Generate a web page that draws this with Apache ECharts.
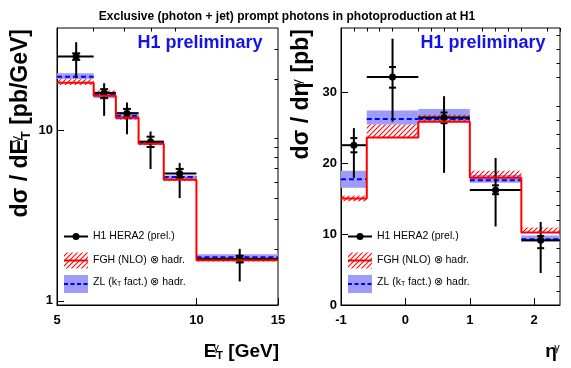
<!DOCTYPE html>
<html><head><meta charset="utf-8">
<script src="https://cdn.jsdelivr.net/npm/echarts@6/dist/echarts.min.js"></script>
<style>html,body{margin:0;padding:0;background:#fff}#c{width:571px;height:368px}</style>
</head><body><div id="c"></div>
<script>
// ---------- data: left panel (E_T^gamma) ----------
const etEdges   = [5, 6, 6.7, 7.5, 8.5, 10, 15];
const etX       = [5.5, 6.32, 7.08, 7.96, 9.2, 12.4];
const etData    = [27.2, 16.6, 12.65, 8.6, 5.6, 1.76];
const etTotLo   = [20.3, 12.2, 9.5, 5.94, 4.01, 1.30];
const etTotHi   = [33.0, 18.96, 14.6, 9.87, 6.44, 2.02];
const etStatLo  = [26.0, 15.5, 11.9, 8.0, 5.3, 1.68];
const etStatHi  = [28.4, 17.5, 13.4, 9.2, 5.95, 1.84];
const etFGH     = [19.1, 16.0, 11.9, 8.36, 5.14, 1.73];
const etFGHLo   = [18.5, 15.8, 11.6, 8.2, 5.05, 1.70];
const etFGHHi   = [20.0, 17.2, 12.4, 8.6, 5.35, 1.80];
const etZL      = [20.7, 16.4, 12.2, 8.5, 5.33, 1.80];
const etZLLo    = [20.1, 15.5, 11.6, 8.3, 5.2, 1.73];
const etZLHi    = [21.7, 16.9, 12.6, 8.7, 5.45, 1.88];
const etXLabels = [5, 10, 15];
const etXMinor  = [6, 7, 8, 9];
const etYLabels = [1, 10];
const etYMinor  = [2, 3, 4, 5, 6, 7, 8, 9, 20, 30];

// ---------- data: right panel (eta^gamma) ----------
const etaEdges  = [-1, -0.6, 0.2, 1.0, 1.8, 2.4];
const etaX      = [-0.8, -0.2, 0.6, 1.4, 2.1];
const etaData   = [22.5, 32.1, 26.4, 16.2, 9.1];
const etaTotLo  = [17.9, 25.8, 18.6, 11.05, 4.5];
const etaTotHi  = [24.9, 37.5, 29.4, 20.7, 11.7];
const etaStatLo = [21.5, 30.6, 25.6, 15.6, 8.0];
const etaStatHi = [23.5, 33.5, 27.1, 16.85, 9.7];
const etaFGH    = [15.0, 23.6, 25.8, 17.9, 10.2];
const etaFGHLo  = [14.6, 23.6, 25.8, 17.9, 10.2];
const etaFGHHi  = [15.4, 25.4, 26.8, 18.9, 10.9];
const etaZL     = [17.7, 26.2, 26.2, 17.55, 9.27];
const etaZLLo   = [16.5, 25.4, 25.9, 17.2, 8.9];
const etaZLHi   = [18.9, 27.4, 27.6, 18.3, 9.8];
const etaXLabels = [-1, 0, 1, 2];
const etaXMinor  = [-0.8, -0.6, -0.4, -0.2, 0.2, 0.4, 0.6, 0.8, 1.2, 1.4, 1.6, 1.8, 2.2, 2.4];
const etaYLabels = [0, 10, 20, 30];
const etaYMinor  = [2, 4, 6, 8, 12, 14, 16, 18, 22, 24, 26, 28, 32, 34, 36, 38];

// ---------- styles ----------
const FONT = "'Liberation Sans', Arial, Helvetica, sans-serif";
const RED = '#ff0000', BLUE = '#0000ff', BAND = '#9d9df7', H1BLUE = '#1414e6';

function hatchCanvas() {
  const c = document.createElement('canvas');
  c.width = 5; c.height = 5;
  const g = c.getContext('2d');
  g.strokeStyle = RED; g.lineWidth = 1.1;
  g.beginPath();
  g.moveTo(0, 5); g.lineTo(5, 0);
  g.moveTo(-1, 1); g.lineTo(1, -1);
  g.moveTo(4, 6); g.lineTo(6, 4);
  g.stroke();
  return c;
}
const HATCH = { image: hatchCanvas(), repeat: 'repeat' };

function bins(edges, lo, hi) {
  return lo.map((v, i) => [edges[i], edges[i + 1], v, hi[i]]);
}
function segs(edges, vals) {
  return vals.map((v, i) => [edges[i], edges[i + 1], v]);
}
function stepPts(edges, vals) {
  const p = [];
  vals.forEach((v, i) => { p.push([edges[i], v]); p.push([edges[i + 1], v]); });
  return p;
}
function pts(x, y, tl, th, sl, sh, edges) {
  return x.map((xv, i) => [xv, y[i], tl[i], th[i], sl[i], sh[i], edges[i], edges[i + 1]]);
}

function bandRender(fill) {
  return function (params, api) {
    const a = api.coord([api.value(0), api.value(3)]);
    const b = api.coord([api.value(1), api.value(2)]);
    return { type: 'rect', shape: { x: a[0], y: a[1], width: b[0] - a[0], height: b[1] - a[1] }, style: { fill: fill } };
  };
}
function dashRender(params, api) {
  const a = api.coord([api.value(0), api.value(2)]);
  const b = api.coord([api.value(1), api.value(2)]);
  return { type: 'line', shape: { x1: a[0], y1: a[1], x2: b[0], y2: b[1] }, style: { stroke: BLUE, lineWidth: 2, lineDash: [5, 3] } };
}
function pointRender(cap, r) {
  return function (params, api) {
    const x = api.value(0), y = api.value(1);
    const c = api.coord([x, y]);
    const t0 = api.coord([x, api.value(2)]), t1 = api.coord([x, api.value(3)]);
    const s0 = api.coord([x, api.value(4)]), s1 = api.coord([x, api.value(5)]);
    const e0 = api.coord([api.value(6), y]), e1 = api.coord([api.value(7), y]);
    const st = { stroke: '#000', lineWidth: 2 };
    return { type: 'group', children: [
      { type: 'line', shape: { x1: e0[0], y1: c[1], x2: e1[0], y2: c[1] }, style: st },
      { type: 'line', shape: { x1: c[0], y1: t0[1], x2: c[0], y2: t1[1] }, style: st },
      { type: 'line', shape: { x1: c[0] - cap, y1: s0[1], x2: c[0] + cap, y2: s0[1] }, style: st },
      { type: 'line', shape: { x1: c[0] - cap, y1: s1[1], x2: c[0] + cap, y2: s1[1] }, style: st },
      { type: 'circle', shape: { cx: c[0], cy: c[1], r: r }, style: { fill: '#000' } }
    ] };
  };
}

const labelStyle = { color: '#000', fontFamily: FONT, fontWeight: 'bold', fontSize: 13 };
function majorAxis(type, grid, min, max, labels, margin) {
  return {
    type: type, gridIndex: grid, min: min, max: max, logBase: 10,
    axisLine: { show: true, onZero: false, lineStyle: { color: '#000', width: 1 } },
    axisTick: { show: true, inside: true, length: 7, customValues: labels, lineStyle: { color: '#000', width: 1 } },
    axisLabel: Object.assign({ show: true, customValues: labels, margin: margin, showMinLabel: true, showMaxLabel: true }, labelStyle),
    splitLine: { show: false }, minorTick: { show: false }
  };
}
function minorAxis(type, grid, min, max, ticks) {
  return {
    type: type, gridIndex: grid, min: min, max: max, logBase: 10,
    axisLine: { show: false, onZero: false },
    axisTick: { show: true, inside: true, length: 3.5, customValues: ticks, lineStyle: { color: '#000', width: 1 } },
    axisLabel: { show: false },
    splitLine: { show: false }
  };
}

const option = {
  animation: false,
  backgroundColor: '#fff',
  grid: [
    { left: 57, top: 28, width: 221, height: 277, show: true, borderColor: '#000', borderWidth: 1 },
    { left: 341, top: 28, width: 219, height: 277, show: true, borderColor: '#000', borderWidth: 1 }
  ],
  xAxis: [
    majorAxis('log', 0, 5, 15, etXLabels, 9),
    minorAxis('log', 0, 5, 15, etXMinor),
    majorAxis('value', 1, -1, 2.4, etaXLabels, 9),
    minorAxis('value', 1, -1, 2.4, etaXMinor)
  ],
  yAxis: [
    majorAxis('log', 0, 0.945, 40, etYLabels, 4),
    minorAxis('log', 0, 0.945, 40, etYMinor),
    majorAxis('value', 1, 0, 39, etaYLabels, 4),
    minorAxis('value', 1, 0, 39, etaYMinor)
  ],
  series: [
    // left panel
    { type: 'custom', xAxisIndex: 0, yAxisIndex: 0, renderItem: bandRender(BAND), data: bins(etEdges, etZLLo, etZLHi), encode: { x: [0, 1], y: [2, 3] } },
    { type: 'custom', xAxisIndex: 0, yAxisIndex: 0, renderItem: bandRender(HATCH), data: bins(etEdges, etFGHLo, etFGHHi), encode: { x: [0, 1], y: [2, 3] } },
    { type: 'line', xAxisIndex: 0, yAxisIndex: 0, data: stepPts(etEdges, etFGH), showSymbol: false, lineStyle: { color: RED, width: 2 } },
    { type: 'custom', xAxisIndex: 0, yAxisIndex: 0, renderItem: dashRender, data: segs(etEdges, etZL), encode: { x: [0, 1], y: 2 } },
    { type: 'custom', xAxisIndex: 0, yAxisIndex: 0, renderItem: pointRender(4, 3.5), data: pts(etX, etData, etTotLo, etTotHi, etStatLo, etStatHi, etEdges), encode: { x: 0, y: 1 } },
    // right panel
    { type: 'custom', xAxisIndex: 2, yAxisIndex: 2, renderItem: bandRender(BAND), data: bins(etaEdges, etaZLLo, etaZLHi), encode: { x: [0, 1], y: [2, 3] } },
    { type: 'custom', xAxisIndex: 2, yAxisIndex: 2, renderItem: bandRender(HATCH), data: bins(etaEdges, etaFGHLo, etaFGHHi), encode: { x: [0, 1], y: [2, 3] } },
    { type: 'line', xAxisIndex: 2, yAxisIndex: 2, data: stepPts(etaEdges, etaFGH), showSymbol: false, lineStyle: { color: RED, width: 2 } },
    { type: 'custom', xAxisIndex: 2, yAxisIndex: 2, renderItem: dashRender, data: segs(etaEdges, etaZL), encode: { x: [0, 1], y: 2 } },
    { type: 'custom', xAxisIndex: 2, yAxisIndex: 2, renderItem: pointRender(3.5, 3.5), data: pts(etaX, etaData, etaTotLo, etaTotHi, etaStatLo, etaStatHi, etaEdges), encode: { x: 0, y: 1 } }
  ],
  graphic: []
};

// ---------- text and legends ----------
const g = option.graphic;
g.push({ type: 'text', x: 287, y: 17, style: { text: 'Exclusive (photon + jet) prompt photons in photoproduction at H1', font: 'bold 12px ' + FONT, fill: '#000', align: 'center', verticalAlign: 'middle' } });
g.push({ type: 'text', x: 200, y: 43, style: { text: 'H1 preliminary', font: 'bold 18px ' + FONT, fill: H1BLUE, align: 'center', verticalAlign: 'middle' } });
g.push({ type: 'text', x: 483, y: 43, style: { text: 'H1 preliminary', font: 'bold 18px ' + FONT, fill: H1BLUE, align: 'center', verticalAlign: 'middle' } });

function titleRich(size) {
  return {
    b: { fontFamily: FONT, fontWeight: 'bold', fontSize: size, color: '#000' },
    sup: { fontFamily: FONT, fontSize: Math.round(size * 0.58), color: '#000', verticalAlign: 'top', width: 0, align: 'left' },
    sub: { fontFamily: FONT, fontWeight: 'bold', fontSize: Math.round(size * 0.58), color: '#000', verticalAlign: 'bottom' }
  };
}
// x titles
g.push({ type: 'text', x: 279, y: 352, style: { text: '{b|E}{sup|γ}{sub|T}{b| [GeV]}', rich: titleRich(19), align: 'right', verticalAlign: 'middle' } });
g.push({ type: 'text', x: 560, y: 352, style: { text: '{b|η}{sup|γ}{sub| }', rich: titleRich(19), align: 'right', verticalAlign: 'middle' } });
// y titles (rotated)
g.push({ type: 'text', x: 21, y: 29, rotation: Math.PI / 2, style: { text: '{b|dσ / dE}{sup|γ}{sub|T}{b| [pb/GeV]}', rich: titleRich(23), align: 'right', verticalAlign: 'middle' } });
g.push({ type: 'text', x: 302, y: 29, rotation: Math.PI / 2, style: { text: '{b|dσ / dη}{sup|γ}{sub| }{b| [pb]}', rich: titleRich(23), align: 'right', verticalAlign: 'middle' } });

const legRich = {
  t: { fontFamily: FONT, fontSize: 10.5, color: '#000' },
  s: { fontFamily: FONT, fontSize: 7, color: '#000', verticalAlign: 'bottom' }
};
function legend(x0) {
  const w = 24;
  g.push({ type: 'line', shape: { x1: x0, y1: 236.5, x2: x0 + w, y2: 236.5 }, style: { stroke: '#000', lineWidth: 2 } });
  g.push({ type: 'circle', shape: { cx: x0 + w / 2, cy: 236.5, r: 3.5 }, style: { fill: '#000' } });
  g.push({ type: 'text', x: x0 + 29, y: 236.5, style: { text: '{t|H1 HERA2 (prel.)}', rich: legRich, verticalAlign: 'middle' } });
  g.push({ type: 'rect', shape: { x: x0, y: 252.5, width: w, height: 16 }, style: { fill: HATCH } });
  g.push({ type: 'line', shape: { x1: x0, y1: 260.5, x2: x0 + w, y2: 260.5 }, style: { stroke: RED, lineWidth: 2 } });
  g.push({ type: 'text', x: x0 + 29, y: 260.5, style: { text: '{t|FGH (NLO) ⊗ hadr.}', rich: legRich, verticalAlign: 'middle' } });
  g.push({ type: 'rect', shape: { x: x0, y: 275, width: w, height: 18 }, style: { fill: BAND } });
  g.push({ type: 'line', shape: { x1: x0, y1: 284, x2: x0 + w, y2: 284 }, style: { stroke: BLUE, lineWidth: 2, lineDash: [4, 2.5] } });
  g.push({ type: 'text', x: x0 + 29, y: 282, style: { text: '{t|ZL (k}{s|T}{t| fact.) ⊗ hadr.}', rich: legRich, verticalAlign: 'middle' } });
}
legend(64);
legend(348);

const chart = echarts.init(document.getElementById('c'), null, { renderer: 'canvas' });
chart.setOption(option);
</script>
</body></html>
